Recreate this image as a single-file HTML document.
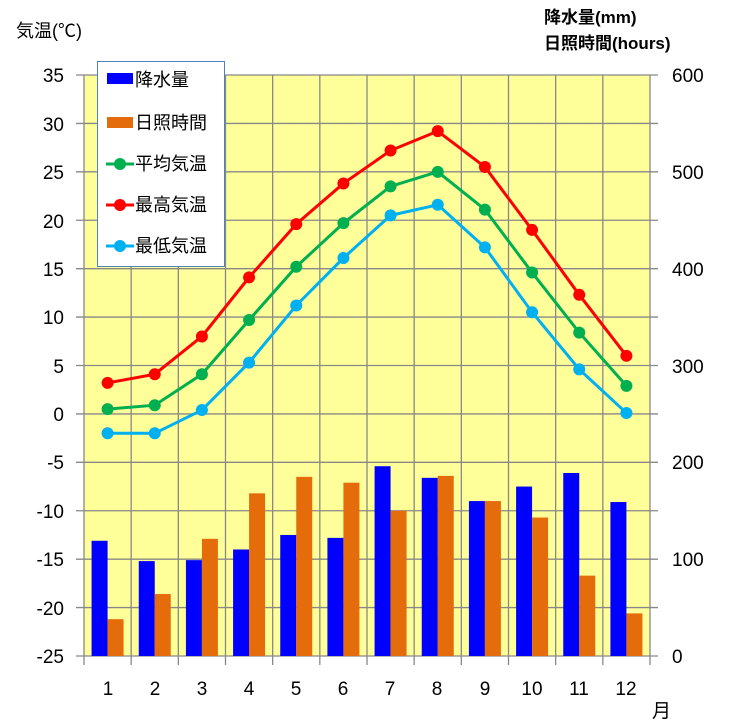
<!DOCTYPE html>
<html><head><meta charset="utf-8"><style>
body{margin:0;background:#fff}
svg{display:block;font-family:"Liberation Sans","Noto Sans CJK JP",sans-serif}
</style></head><body>
<svg id="s" width="745" height="725" viewBox="0 0 745 725" xmlns="http://www.w3.org/2000/svg">
<rect x="84" y="75" width="566" height="581" fill="#ffff99"/>
<g id="grid" stroke="#888" stroke-width="1.3"></g>
<g id="bars"></g>
<g id="lines"></g>
<g font-size="19" fill="#000" text-anchor="end">
<text x="64" y="82">35</text><text x="64" y="131">30</text><text x="64" y="179">25</text><text x="64" y="228">20</text><text x="64" y="276">15</text><text x="64" y="324">10</text><text x="64" y="373">5</text><text x="64" y="421">0</text><text x="64" y="469">-5</text><text x="64" y="518">-10</text><text x="64" y="566">-15</text><text x="64" y="615">-20</text><text x="64" y="663">-25</text>
</g>
<g font-size="19" fill="#000" text-anchor="start">
<text x="672" y="82">600</text><text x="672" y="179">500</text><text x="672" y="276">400</text><text x="672" y="373">300</text><text x="672" y="469">200</text><text x="672" y="566">100</text><text x="672" y="663">0</text>
</g>
<g font-size="19" fill="#000" text-anchor="middle">
<text x="108" y="695">1</text><text x="155" y="695">2</text><text x="202" y="695">3</text><text x="249" y="695">4</text><text x="296" y="695">5</text><text x="343" y="695">6</text><text x="390" y="695">7</text><text x="437" y="695">8</text><text x="485" y="695">9</text><text x="532" y="695">10</text><text x="579" y="695">11</text><text x="626" y="695">12</text>
</g>
<text x="652" y="717" font-size="19">月</text>
<text x="16" y="37" font-size="18">気温(℃)</text>
<text x="544" y="23" font-size="17" font-weight="bold">降水量(mm)</text>
<text x="544" y="49" font-size="17" font-weight="bold">日照時間(hours)</text>
<rect x="97.5" y="61.5" width="127" height="205" fill="#fff" stroke="#4f81bd" stroke-width="1"/>
<rect x="107" y="73" width="26" height="11" fill="#0000ff"/>
<rect x="107" y="117" width="26" height="11" fill="#e46c0a"/>
<line x1="106" y1="164" x2="134" y2="164" stroke="#00b050" stroke-width="3"/><circle cx="120" cy="164" r="6" fill="#00b050"/>
<line x1="106" y1="205" x2="134" y2="205" stroke="#ff0000" stroke-width="3"/><circle cx="120" cy="205" r="6" fill="#ff0000"/>
<line x1="106" y1="246" x2="134" y2="246" stroke="#00b0f0" stroke-width="3"/><circle cx="120" cy="246" r="6" fill="#00b0f0"/>
<g font-size="18" fill="#000">
<text x="135" y="86">降水量</text><text x="135" y="129">日照時間</text><text x="135" y="170">平均気温</text><text x="135" y="211">最高気温</text><text x="135" y="252">最低気温</text>
</g>
</svg>
<script>
var NS="http://www.w3.org/2000/svg";
function el(p,t,a){var e=document.createElementNS(NS,t);for(var k in a)e.setAttribute(k,a[k]);document.getElementById(p).appendChild(e);}
var L=84,R=650,cw=(R-L)/12;
function cx(k){return L+cw*(k+0.5);}
function yT(t){return 75+(35-t)*(581/60);}
function yR(v){return 656-v*0.9683;}
for(var i=0;i<=12;i++){var y=75+i*581/12;el("grid","line",{x1:76,x2:658,y1:y,y2:y});}
for(var i=0;i<=12;i++){var x=L+i*cw;el("grid","line",{x1:x,x2:x,y1:75,y2:665});}
var pr=[119,98,99,110,125,122,196,184,160,175,189,159];
var sn=[38,64,121,168,185,179,150,186,160,143,83,44];
for(var k=0;k<12;k++){var c=cx(k);
el("bars","rect",{x:c-16,y:yR(pr[k]),width:16,height:656-yR(pr[k]),fill:"#0000ff"});
el("bars","rect",{x:c,y:yR(sn[k]),width:16,height:656-yR(sn[k]),fill:"#e46c0a"});}
var ser=[["#00b050",[0.5,0.9,4.1,9.7,15.2,19.7,23.5,25.0,21.1,14.6,8.4,2.9]],
["#ff0000",[3.2,4.1,8.0,14.1,19.6,23.8,27.2,29.2,25.5,19.0,12.3,6.0]],
["#00b0f0",[-2.0,-2.0,0.4,5.3,11.2,16.1,20.5,21.6,17.2,10.5,4.6,0.1]]];
ser.forEach(function(s){var pts=s[1].map(function(v,k){return cx(k)+","+yT(v);}).join(" ");
el("lines","polyline",{points:pts,fill:"none",stroke:s[0],"stroke-width":3});
s[1].forEach(function(v,k){el("lines","circle",{cx:cx(k),cy:yT(v),r:6,fill:s[0]});});});
</script>
</body></html>
